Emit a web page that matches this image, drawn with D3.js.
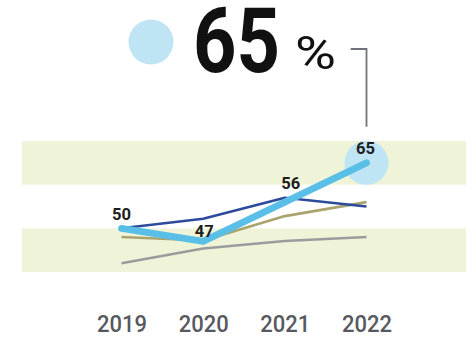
<!DOCTYPE html>
<html>
<head>
<meta charset="utf-8">
<script src="https://cdn.jsdelivr.net/npm/d3@7/dist/d3.min.js"></script>
<style>
  html, body { margin: 0; padding: 0; background: #ffffff; }
  svg { display: block; }
</style>
</head>
<body>
<div id="chart"></div>
<script>
// Survey share by year
const years = ["2019", "2020", "2021", "2022"];
const mainValues = [50, 47, 56, 65];
const navyValues = [50, 52.2, 57, 55];
const oliveValues = [48, 47.2, 52.8, 56];
const greyValues = [42, 45.4, 47.1, 48];
const bandRanges = [[40, 50], [60, 70]];
const headlineValue = 65;
const headlineUnit = "%";

const W = 466, H = 337;
const svg = d3.select("#chart").append("svg")
  .attr("width", W).attr("height", H);

const x = d3.scalePoint().domain(years).range([121.5, 366.5]);
const y = d3.scaleLinear().domain([40, 70]).range([272, 141]);

// shaded bands
svg.append("g").selectAll("rect")
  .data(bandRanges)
  .join("rect")
  .attr("x", 22)
  .attr("width", W - 22)
  .attr("y", d => y(d[1]))
  .attr("height", d => y(d[0]) - y(d[1]))
  .attr("fill", "#eff4d8");

const line = d3.line()
  .x((d, i) => x(years[i]))
  .y(d => y(d));

const secondary = [
  { values: greyValues, color: "#9b9b9e", width: 2.6 },
  { values: oliveValues, color: "#a9a46e", width: 2.6 },
  { values: navyValues, color: "#2d4a9d", width: 2.6 }
];

svg.append("g").selectAll("path")
  .data(secondary)
  .join("path")
  .attr("d", d => line(d.values))
  .attr("fill", "none")
  .attr("stroke", d => d.color)
  .attr("stroke-width", d => d.width)
  .attr("stroke-linejoin", "round");

// highlight disc at the latest year
const lastYear = years[years.length - 1];
const lastValue = mainValues[mainValues.length - 1];
svg.append("circle")
  .attr("cx", x(lastYear))
  .attr("cy", y(lastValue))
  .attr("r", 22)
  .attr("fill", "#bfe4f4");

svg.append("path")
  .attr("d", line(mainValues))
  .attr("fill", "none")
  .attr("stroke", "#5abfe6")
  .attr("stroke-width", 6.8)
  .attr("stroke-linejoin", "round")
  .attr("stroke-linecap", "round");

// value labels
const labelNudge = { "2019": [0, -8.7], "2020": [1, -4.5], "2021": [6, -13.5], "2022": [-1, -9] };
svg.append("g").selectAll("text")
  .data(mainValues)
  .join("text")
  .attr("x", (d, i) => x(years[i]) + labelNudge[years[i]][0])
  .attr("y", (d, i) => y(d) + labelNudge[years[i]][1])
  .attr("text-anchor", "middle")
  .attr("font-family", "Roboto, 'DejaVu Sans', sans-serif")
  .attr("font-weight", 700)
  .attr("font-size", 17)
  .attr("textLength", 19)
  .attr("lengthAdjust", "spacingAndGlyphs")
  .attr("fill", "#1e1e1e")
  .text(d => d);

// year axis
const axis = svg.append("g")
  .attr("transform", "translate(0,316)")
  .call(d3.axisBottom(x).tickSize(0).tickPadding(0));
axis.select(".domain").remove();
axis.selectAll("text")
  .attr("dy", null)
  .attr("y", 15.6)
  .attr("font-family", "Roboto, 'DejaVu Sans', sans-serif")
  .attr("font-weight", 500)
  .attr("font-size", 23)
  .attr("textLength", 50)
  .attr("lengthAdjust", "spacingAndGlyphs")
  .attr("fill", "#57595e");

// headline figure
const head = svg.append("g");
head.append("circle")
  .attr("cx", 151)
  .attr("cy", 42)
  .attr("r", 22.5)
  .attr("fill", "#bfe4f4");
head.append("text")
  .attr("x", 193)
  .attr("y", 72)
  .attr("font-family", "Roboto, 'DejaVu Sans', sans-serif")
  .attr("font-weight", 700)
  .attr("font-size", 90)
  .attr("textLength", 87)
  .attr("lengthAdjust", "spacingAndGlyphs")
  .attr("fill", "#111111")
  .text(headlineValue);
head.append("text")
  .attr("x", 295)
  .attr("y", 68.5)
  .attr("font-family", "Roboto, 'DejaVu Sans', sans-serif")
  .attr("font-weight", 400)
  .attr("font-size", 47)
  .attr("textLength", 41)
  .attr("lengthAdjust", "spacingAndGlyphs")
  .attr("fill", "#111111")
  .text(headlineUnit);

// leader from headline down to the highlighted point
const lx = x(lastYear);
svg.append("path")
  .attr("d", `M350.7,49H${lx}V126.7`)
  .attr("fill", "none")
  .attr("stroke", "#707377")
  .attr("stroke-width", 1.8);
</script>
</body>
</html>
